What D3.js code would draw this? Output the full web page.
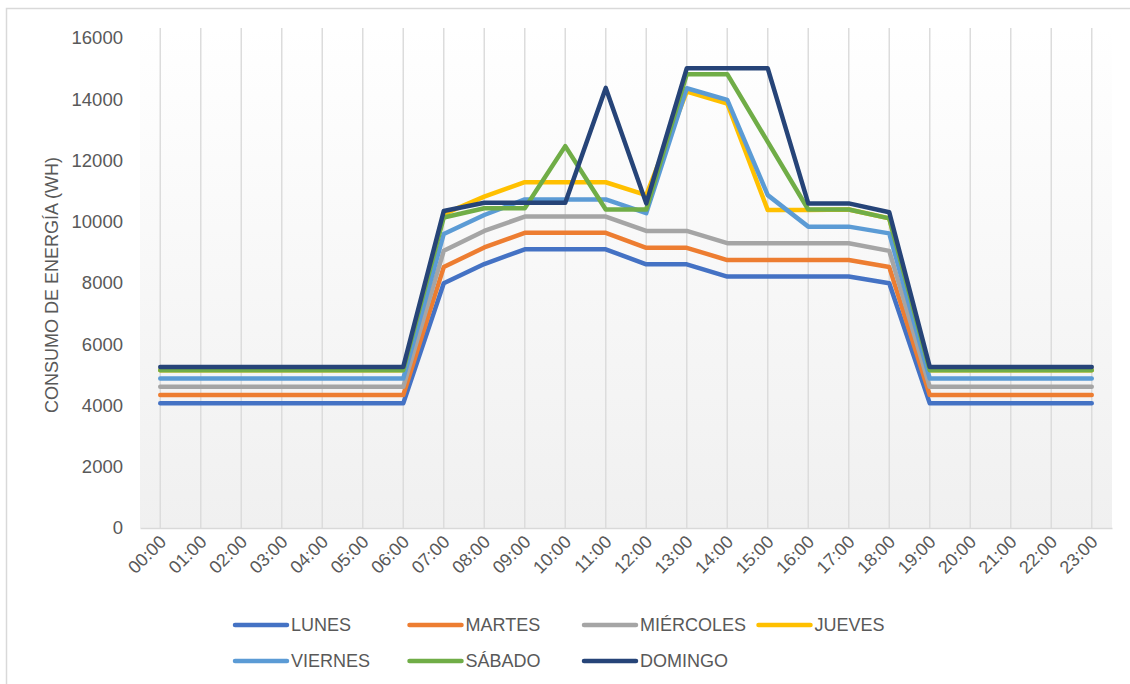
<!DOCTYPE html>
<html>
<head>
<meta charset="utf-8">
<script src="https://cdn.jsdelivr.net/npm/d3@7"></script>
<style>
  body { margin: 0; background: #fff; }
  svg { display: block; font-family: "Liberation Sans", Arial, sans-serif; }
</style>
</head>
<body>
<svg id="chart" width="1130" height="684"></svg>
<script>
// Horas del día
const hours = ["00:00","01:00","02:00","03:00","04:00","05:00","06:00","07:00","08:00","09:00","10:00","11:00",
  "12:00","13:00","14:00","15:00","16:00","17:00","18:00","19:00","20:00","21:00","22:00","23:00"];

// Consumo por día (Wh)
const lunes     = [4070,4070,4070,4070,4070,4070,4070,7990,8620,9100,9100,9100,8610,8610,8210,8210,8210,8210,7990,4070,4070,4070,4070,4070];
const martes    = [4340,4340,4340,4340,4340,4340,4340,8520,9160,9640,9640,9640,9150,9150,8750,8750,8750,8750,8520,4340,4340,4340,4340,4340];
const miercoles = [4610,4610,4610,4610,4610,4610,4610,9050,9700,10170,10170,10170,9700,9700,9300,9300,9300,9300,9050,4610,4610,4610,4610,4610];
const jueves    = [5150,5150,5150,5150,5150,5150,5150,10250,10820,11290,11290,11290,10870,14250,13860,10380,10380,10400,10110,5150,5150,5150,5150,5150];
const viernes   = [4880,4880,4880,4880,4880,4880,4880,9600,10220,10730,10730,10730,10280,14360,13980,10870,9840,9840,9620,4880,4880,4880,4880,4880];
const sabado    = [5150,5150,5150,5150,5150,5150,5150,10140,10440,10440,12470,10400,10400,14820,14820,12610,10400,10400,10110,5150,5150,5150,5150,5150];
const domingo   = [5260,5260,5260,5260,5260,5260,5260,10350,10620,10620,10620,14370,10600,15010,15010,15010,10600,10600,10310,5260,5260,5260,5260,5260];

const seriesNames = ["LUNES","MARTES","MIÉRCOLES","JUEVES","VIERNES","SÁBADO","DOMINGO"];
const seriesValues = [lunes, martes, miercoles, jueves, viernes, sabado, domingo];
const seriesColors = ["#4472C4","#ED7D31","#A5A5A5","#FFC000","#5B9BD5","#70AD47","#264478"];

const yTicks = [0,2000,4000,6000,8000,10000,12000,14000,16000];

const svg = d3.select("#chart");

// Marco exterior del gráfico
svg.append("rect")
  .attr("x", 6.5).attr("y", 8.5)
  .attr("width", 1140).attr("height", 700)
  .attr("fill", "#fff")
  .attr("stroke", "#d9d9d9")
  .attr("stroke-width", 1.5);

const plot = { left: 140, right: 1112, top: 38, bottom: 528 };

const x = d3.scaleBand()
  .domain(hours)
  .range([plot.left, plot.right]);

const y = d3.scaleLinear()
  .domain([0, 16000])
  .range([plot.bottom, plot.top]);

// Fondo degradado del área de trazado
const defs = svg.append("defs");
const grad = defs.append("linearGradient")
  .attr("id", "bg").attr("x1", 0).attr("y1", 0).attr("x2", 0).attr("y2", 1);
grad.append("stop").attr("offset", "0%").attr("stop-color", "#ffffff");
grad.append("stop").attr("offset", "100%").attr("stop-color", "#f0f0f0");

svg.append("rect")
  .attr("x", plot.left).attr("y", plot.top - 10)
  .attr("width", plot.right - plot.left)
  .attr("height", plot.bottom - plot.top + 10)
  .attr("fill", "url(#bg)");

const cx = h => x(h) + x.bandwidth() / 2;

// Líneas de cuadrícula verticales
svg.append("g")
  .selectAll("line")
  .data(hours)
  .join("line")
    .attr("x1", cx).attr("x2", cx)
    .attr("y1", plot.top - 10).attr("y2", plot.bottom)
    .attr("stroke", "#dcdcdc")
    .attr("stroke-width", 1.5);

// Eje X
const xAxis = svg.append("g")
  .attr("transform", `translate(0,${plot.bottom})`)
  .call(d3.axisBottom(x).tickSize(0).tickPadding(0));
xAxis.select(".domain").attr("stroke", "#d9d9d9").attr("stroke-width", 1.5);
xAxis.selectAll("text")
  .attr("fill", "#595959")
  .attr("font-size", "18px")
  .attr("text-anchor", "end")
  .attr("dy", null)
  .attr("transform", "translate(7,15) rotate(-45)");

// Eje Y
const yAxis = svg.append("g")
  .attr("transform", `translate(${plot.left},0)`)
  .call(d3.axisLeft(y).tickValues(yTicks).tickSize(0).tickPadding(17).tickFormat(d3.format("d")));
yAxis.select(".domain").remove();
yAxis.selectAll("text")
  .attr("fill", "#595959")
  .attr("font-size", "18.5px");

svg.append("text")
  .attr("transform", `translate(58,${(plot.top + plot.bottom) / 2 + 2}) rotate(-90)`)
  .attr("text-anchor", "middle")
  .attr("fill", "#595959")
  .attr("font-size", "18px")
  .text("CONSUMO DE ENERGÍA (WH)");

// Series
const line = d3.line()
  .x((d, i) => cx(hours[i]))
  .y(d => y(d));

svg.append("g")
  .selectAll("path")
  .data(seriesValues)
  .join("path")
    .attr("d", d => line(d))
    .attr("fill", "none")
    .attr("stroke", (d, i) => seriesColors[i])
    .attr("stroke-width", 4.5)
    .attr("stroke-linejoin", "round")
    .attr("stroke-linecap", "round");

// Leyenda
const legend = svg.append("g");
const legendItems = legend.selectAll("g")
  .data(seriesNames)
  .join("g")
    .attr("transform", (d, i) => `translate(${233 + (i % 4) * 174.5},${i < 4 ? 625 : 661})`);

legendItems.append("line")
  .attr("x1", 2).attr("x2", 54)
  .attr("stroke", (d, i) => seriesColors[i])
  .attr("stroke-width", 4.5)
  .attr("stroke-linecap", "round");

legendItems.append("text")
  .attr("x", 58)
  .attr("dy", "0.35em")
  .attr("fill", "#595959")
  .attr("font-size", "18px")
  .text(d => d);
</script>
</body>
</html>
